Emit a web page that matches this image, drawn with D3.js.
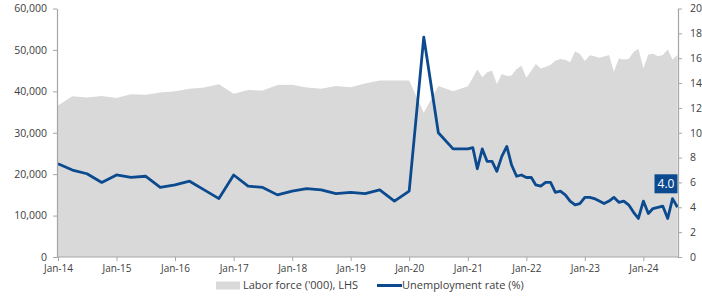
<!DOCTYPE html>
<html>
<head>
<meta charset="utf-8">
<script src="https://cdn.jsdelivr.net/npm/d3@7"></script>
<style>
  body { margin: 0; background: #fff; }
  svg text { font-family: 'Open Sans', sans-serif; }
</style>
</head>
<body>
<div class="canvas"></div>
<script>
// quarterly survey rounds to 2020, monthly from 2021
const dates = [
  '2014-01', '2014-04', '2014-07', '2014-10',
  '2015-01', '2015-04', '2015-07', '2015-10',
  '2016-01', '2016-04', '2016-07', '2016-10',
  '2017-01', '2017-04', '2017-07', '2017-10',
  '2018-01', '2018-04', '2018-07', '2018-10',
  '2019-01', '2019-04', '2019-07', '2019-10',
  '2020-01', '2020-04', '2020-07', '2020-10',
  '2021-01', '2021-02', '2021-03', '2021-04', '2021-05', '2021-06',
  '2021-07', '2021-08', '2021-09', '2021-10', '2021-11', '2021-12',
  '2022-01', '2022-02', '2022-03', '2022-04', '2022-05', '2022-06',
  '2022-07', '2022-08', '2022-09', '2022-10', '2022-11', '2022-12',
  '2023-01', '2023-02', '2023-03', '2023-04', '2023-05', '2023-06',
  '2023-07', '2023-08', '2023-09', '2023-10', '2023-11', '2023-12',
  '2024-01', '2024-02', '2024-03', '2024-04', '2024-05', '2024-06',
  '2024-07', '2024-08'
];

const laborForce = [
  36600, 38800, 38500, 38900,
  38400, 39300, 39200, 39700,
  40000, 40600, 40900, 41700,
  39400, 40300, 40200, 41500,
  41600, 40900, 40600, 41300,
  41000, 41900, 42600, 42600,
  42600, 34800, 41300, 40000,
  41200, 43300, 45300, 43400, 44600, 45000,
  41800, 44200, 43700, 43800, 45400, 46200,
  43300, 45000, 46600, 45500, 45900, 46400,
  47400, 47800, 47600, 47000, 49700, 49000,
  47300, 48700, 48500, 48100, 48400, 48800,
  44700, 47900, 47700, 47800, 49500, 50300,
  45600, 48900, 49100, 48500, 48800, 50100,
  47700, 48800
];

const unemployment = [
  7.5, 7.0, 6.7, 6.0,
  6.6, 6.4, 6.5, 5.6,
  5.8, 6.1, 5.4, 4.7,
  6.6, 5.7, 5.6, 5.0,
  5.3, 5.5, 5.4, 5.1,
  5.2, 5.1, 5.4, 4.5,
  5.3, 17.7, 10.0, 8.7,
  8.7, 8.8, 7.1, 8.7, 7.7, 7.7,
  6.9, 8.1, 8.9, 7.4, 6.5, 6.6,
  6.4, 6.4, 5.8, 5.7, 6.0, 6.0,
  5.2, 5.3, 5.0, 4.5, 4.2, 4.3,
  4.8, 4.8, 4.7, 4.5, 4.3, 4.5,
  4.8, 4.4, 4.5, 4.2, 3.6, 3.1,
  4.5, 3.5, 3.9, 4.0, 4.1, 3.1,
  4.7, 4.0
];

const leftTicks = [0, 10000, 20000, 30000, 40000, 50000, 60000];
const rightTicks = [0, 2, 4, 6, 8, 10, 12, 14, 16, 18, 20];
const yearTicks = ['2014', '2015', '2016', '2017', '2018', '2019', '2020', '2021', '2022', '2023', '2024'];
const legendLabels = ["Labor force ('000), LHS", 'Unemployment rate (%)'];

const width = 702;
const height = 296;
const plot = { left: 58, right: 677.5, top: 8.5, bottom: 257 };
const grey = '#d9d9d9';
const blue = '#0b4a8f';
const axisColor = '#a6a6a6';
const textColor = '#404040';

const parseMonth = d3.timeParse('%Y-%m');
const data = dates.map((d, i) => ({
  date: parseMonth(d),
  labor: laborForce[i],
  rate: unemployment[i]
}));

const svg = d3.select('.canvas')
  .append('svg')
  .attr('width', width)
  .attr('height', height);

const x = d3.scaleTime()
  .domain(d3.extent(data, d => d.date))
  .range([plot.left, plot.right]);
const yLeft = d3.scaleLinear().domain([0, 60000]).range([plot.bottom, plot.top]);
const yRight = d3.scaleLinear().domain([0, 20]).range([plot.bottom, plot.top]);

// labor force area
const area = d3.area()
  .x(d => x(d.date))
  .y0(yLeft(0))
  .y1(d => yLeft(d.labor));

svg.append('path')
  .datum(data)
  .attr('fill', grey)
  .attr('d', area);

// unemployment line
const line = d3.line()
  .x(d => x(d.date))
  .y(d => yRight(d.rate));

svg.append('path')
  .datum(data)
  .attr('fill', 'none')
  .attr('stroke', blue)
  .attr('stroke-width', 2.8)
  .attr('stroke-linejoin', 'round')
  .attr('d', line);

// axes
const styleAxis = (g) => {
  g.select('.domain').attr('stroke', axisColor).attr('stroke-width', 1.2);
  g.selectAll('.tick line').attr('stroke', axisColor);
  g.selectAll('.tick text').attr('fill', textColor).attr('font-size', 10.5);
};

const xAxis = d3.axisBottom(x)
  .tickValues(yearTicks.map(y => parseMonth(y + '-01')))
  .tickFormat(d3.timeFormat('%b-%y'))
  .tickSize(4)
  .tickSizeOuter(0)
  .tickPadding(4);

svg.append('g')
  .attr('transform', `translate(0, ${plot.bottom})`)
  .call(xAxis)
  .call(styleAxis)
  .call(g => g.select('.domain').attr('d', `M${plot.left - 1},0H${plot.right + 0.5}`))
  .call(g => g.selectAll('.tick text').attr('font-size', 10));

const leftAxis = d3.axisLeft(yLeft)
  .tickValues(leftTicks)
  .tickFormat(d3.format(','))
  .tickSize(4)
  .tickSizeOuter(0)
  .tickPadding(6);

svg.append('g')
  .attr('transform', `translate(${plot.left - 1}, 0)`)
  .call(leftAxis)
  .call(styleAxis);

const rightAxis = d3.axisRight(yRight)
  .tickValues(rightTicks)
  .tickSize(4)
  .tickSizeOuter(0)
  .tickPadding(8);

svg.append('g')
  .attr('transform', `translate(${plot.right + 0.5}, 0)`)
  .call(rightAxis)
  .call(styleAxis);

// last value callout
const last = data[data.length - 1];
const lx = x(last.date);
const ly = yRight(last.rate);
svg.append('rect')
  .attr('x', lx - 23)
  .attr('y', ly - 33)
  .attr('width', 23)
  .attr('height', 19)
  .attr('fill', blue);
svg.append('text')
  .attr('x', lx - 11.5)
  .attr('y', ly - 23.5)
  .attr('dy', '0.35em')
  .attr('text-anchor', 'middle')
  .attr('fill', '#fff')
  .attr('font-size', 12)
  .text(d3.format('.1f')(last.rate));

// legend
const legend = svg.append('g').attr('transform', 'translate(216, 285.5)');
legend.append('rect')
  .attr('x', 0)
  .attr('y', -4)
  .attr('width', 24)
  .attr('height', 8)
  .attr('fill', grey);
legend.append('text')
  .attr('x', 27)
  .attr('dy', '0.35em')
  .attr('fill', textColor)
  .attr('font-size', 11)
  .text(legendLabels[0]);
legend.append('line')
  .attr('x1', 161)
  .attr('x2', 186)
  .attr('stroke', blue)
  .attr('stroke-width', 3);
legend.append('text')
  .attr('x', 186)
  .attr('dy', '0.35em')
  .attr('fill', textColor)
  .attr('font-size', 11)
  .text(legendLabels[1]);
</script>
</body>
</html>
